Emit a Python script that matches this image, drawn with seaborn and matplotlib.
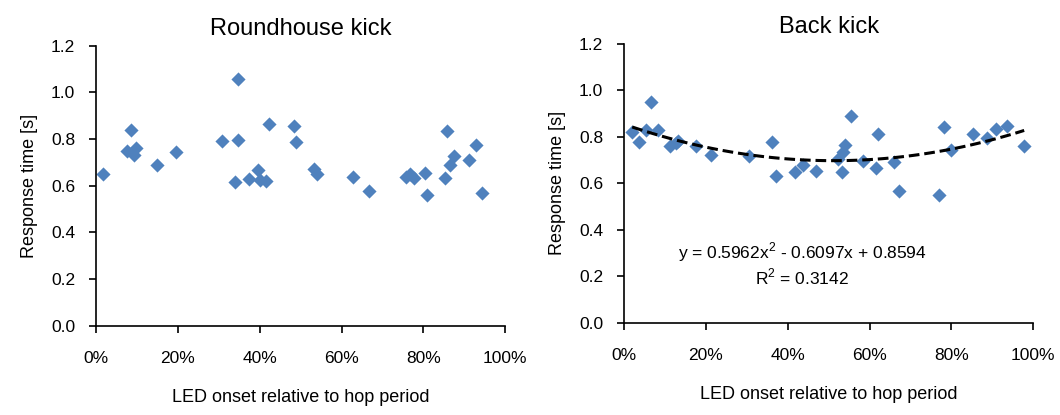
import numpy as np
import pandas as pd
import matplotlib
matplotlib.use('Agg')
import matplotlib.pyplot as plt
from matplotlib import font_manager
import seaborn as sns
from matplotlib.ticker import PercentFormatter

# roundhouse kick: LED onset (fraction of hop period) vs response time [s]
rh_onset = [0.017, 0.076, 0.086, 0.094, 0.098, 0.149, 0.195, 0.307, 0.347, 0.347,
            0.339, 0.373, 0.397, 0.401, 0.415, 0.423, 0.485, 0.488, 0.532, 0.541,
            0.627, 0.667, 0.758, 0.768, 0.776, 0.805, 0.809, 0.853, 0.857, 0.866,
            0.874, 0.912, 0.929, 0.944]
rh_time = [0.649, 0.749, 0.839, 0.731, 0.763, 0.689, 0.743, 0.790, 1.059, 0.794,
           0.617, 0.629, 0.666, 0.624, 0.621, 0.863, 0.857, 0.789, 0.670, 0.649,
           0.639, 0.577, 0.637, 0.650, 0.634, 0.653, 0.559, 0.634, 0.834, 0.690,
           0.727, 0.710, 0.773, 0.567]

# back kick
bk_onset = [0.020, 0.037, 0.053, 0.066, 0.082, 0.112, 0.133, 0.126, 0.176, 0.213,
            0.305, 0.362, 0.371, 0.418, 0.438, 0.468, 0.523, 0.534, 0.540, 0.532,
            0.555, 0.585, 0.620, 0.617, 0.660, 0.672, 0.769, 0.783, 0.800, 0.853,
            0.888, 0.910, 0.937, 0.978]
bk_time = [0.820, 0.780, 0.830, 0.949, 0.830, 0.759, 0.783, 0.772, 0.759, 0.724,
           0.716, 0.779, 0.630, 0.650, 0.679, 0.654, 0.706, 0.734, 0.766, 0.650,
           0.889, 0.697, 0.814, 0.666, 0.694, 0.569, 0.550, 0.844, 0.744, 0.814,
           0.794, 0.834, 0.849, 0.759]

titles = ['Roundhouse kick', 'Back kick']
eq_text = 'y = 0.5962x$^2$ - 0.6097x + 0.8594'
r2_text = 'R$^2$ = 0.3142'

sns.set_style('white')
plt.rcParams['font.family'] = ['Liberation Sans', 'DejaVu Sans']
plt.rcParams['mathtext.fontset'] = 'custom'
plt.rcParams['mathtext.rm'] = 'Liberation Sans'
for k in ['text.color', 'axes.labelcolor', 'xtick.color', 'ytick.color']:
    plt.rcParams[k] = 'black'

# condensed font for the x axis texts if there is one
try:
    font_manager.findfont('Liberation Sans Narrow', fallback_to_default=False)
    narrow, xl_size, xt_size = ['Liberation Sans Narrow', 'DejaVu Sans'], 14, 13
except Exception:
    narrow, xl_size, xt_size = ['Liberation Sans', 'DejaVu Sans'], 13, 12.5

blue = '#4F81BD'

fig = plt.figure(figsize=(10.6, 4.15), dpi=100)
ax1 = fig.add_axes([0.0906, 0.215, 0.386, 0.675])
ax2 = fig.add_axes([0.5887, 0.222, 0.386, 0.672])

rh = pd.DataFrame({'onset': rh_onset, 'time': rh_time})
bk = pd.DataFrame({'onset': bk_onset, 'time': bk_time})

sns.scatterplot(data=rh, x='onset', y='time', marker='D', s=52, color=blue,
                linewidth=0, ax=ax1)
sns.scatterplot(data=bk, x='onset', y='time', marker='D', s=52, color=blue,
                linewidth=0, ax=ax2)
sns.regplot(data=bk, x='onset', y='time', order=2, ci=None, scatter=False, ax=ax2,
            line_kws=dict(color='black', lw=2.2, ls=(0, (3.5, 1.6))))

for ax, t in zip([ax1, ax2], titles):
    ax.set_xlim(0, 1)
    ax.set_ylim(0, 1.2)
    ax.set_xticks(np.arange(0, 1.01, 0.2))
    ax.set_yticks(np.arange(0, 1.21, 0.2))
    ax.xaxis.set_major_formatter(PercentFormatter(1.0, decimals=0))
    ax.yaxis.set_major_formatter(plt.FormatStrFormatter('%.1f'))
    ax.set_title(t, fontsize=17, pad=8)
    ax.set_ylabel('Response time [s]', fontsize=13, labelpad=9)
    ax.set_xlabel('LED onset relative to hop period', fontsize=xl_size,
                  family=narrow, labelpad=17)
    for sp in ['top', 'right']:
        ax.spines[sp].set_visible(False)
    for sp in ['left', 'bottom']:
        ax.spines[sp].set_color('black')
        ax.spines[sp].set_linewidth(1.2)
    ax.tick_params(axis='y', direction='out', length=5, width=1.2, labelsize=12.5,
                   left=True, pad=10)
    ax.tick_params(axis='x', direction='out', length=5, width=1.2, labelsize=xt_size,
                   bottom=True, pad=13)
    for lab in ax.get_xticklabels():
        lab.set_family(narrow)

ax2.text(0.435, 0.305, eq_text, ha='center', va='center', fontsize=12.5)
ax2.text(0.435, 0.197, r2_text, ha='center', va='center', fontsize=12.5)

fig.savefig('out.png', dpi=100)
